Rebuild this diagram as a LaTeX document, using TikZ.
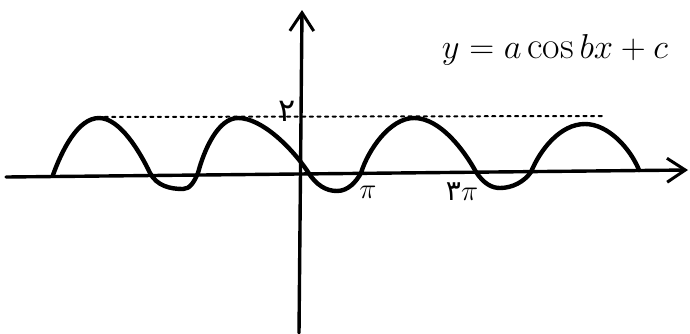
\documentclass[tikz,border=0pt]{standalone}
\usepackage{fontspec}
\usepackage{amsmath}
\usetikzlibrary{arrows.meta}
\newfontfamily\arabicfont[Script=Arabic]{DejaVu Sans}
\tikzset{
  every picture/.append style={line cap=round,line join=round},
  trig axis/.style={line width=1.7pt,-{Straight Barb[length=3.2mm,width=4.2mm,line width=1.5pt]}},
  trig curve/.style={line width=2.2pt},
  trig level/.style={line width=1pt,dash pattern=on 1.6pt off 2.2pt},
  trig note/.style={font=\fontsize{14}{16}\selectfont,inner sep=0pt}
}

\begin{document}
\begin{tikzpicture}[x=0.5pt,y=-0.5pt]
\useasboundingbox (0,0) rectangle (690,333);
% axes
\coordinate (xl) at (6,177);
\coordinate (xr) at (688,170);
\coordinate (yb) at (299,333);
\coordinate (yt) at (302,10);
\draw[trig axis] (xl) -- (xr);
\draw[trig axis] (yb) -- (yt);
% maximum level
\coordinate (ml) at (97,117);
\coordinate (mr) at (604,116);
\draw[trig level] (ml) -- (mr);
% graph
\draw[trig curve] (53,175)
  .. controls (62,150) and (78,118) .. (99,118)
  .. controls (120,118) and (140,152) .. (150,173)
  .. controls (157,186) and (170,189) .. (183,189)
  .. controls (190,189) and (194,182) .. (198,173)
  .. controls (204,150) and (218,118) .. (238,118)
  .. controls (262,118) and (292,148) .. (308,172)
  .. controls (316,185) and (326,191) .. (337,191)
  .. controls (348,191) and (356,182) .. (361,173)
  .. controls (368,150) and (390,118) .. (414,118)
  .. controls (440,118) and (464,150) .. (476,172)
  .. controls (484,184) and (492,188) .. (500,188)
  .. controls (512,188) and (524,182) .. (531,172)
  .. controls (540,150) and (560,124) .. (585,124)
  .. controls (608,124) and (630,148) .. (639,170);
% labels
\node[trig note,font=\fontsize{16}{18}\selectfont] (two) at (287,111) {\arabicfont ۲};
\node[trig note] (pi) at (368,192) {$\pi$};
\node[trig note] (tpi) at (462,192) {{\arabicfont ۳}$\pi$};
\node[trig note,font=\fontsize{19}{22}\selectfont] (eq) at (555,50) {$y=a\cos bx+c$};
\end{tikzpicture}
\end{document}
